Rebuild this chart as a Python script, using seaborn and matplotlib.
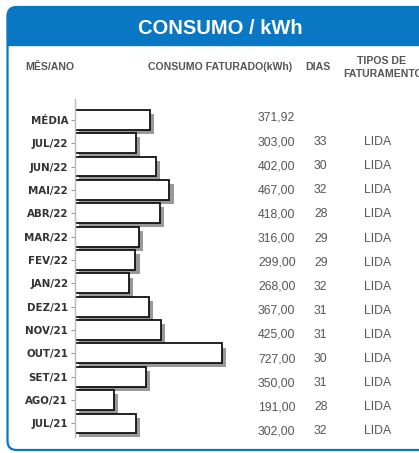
import matplotlib
matplotlib.use("Agg")
import matplotlib.pyplot as plt
import matplotlib.patheffects as pe
from matplotlib.patches import FancyBboxPatch, Rectangle
import seaborn as sns
import pandas as pd

meses = ["MÉDIA", "JUL/22", "JUN/22", "MAI/22", "ABR/22", "MAR/22", "FEV/22",
         "JAN/22", "DEZ/21", "NOV/21", "OUT/21", "SET/21", "AGO/21", "JUL/21"]
consumo = [371.92, 303, 402, 467, 418, 316, 299, 268, 367, 425, 727, 350, 191, 302]
dias = ["", "33", "30", "32", "28", "29", "29", "32", "31", "31", "30", "31", "28", "32"]
tipos = ["", "LIDA", "LIDA", "LIDA", "LIDA", "LIDA", "LIDA", "LIDA", "LIDA", "LIDA",
         "LIDA", "LIDA", "LIDA", "LIDA"]

df = pd.DataFrame({"mes": meses, "consumo": consumo})

sns.set_theme(style="white")
plt.rcParams["font.family"] = ["Liberation Sans", "DejaVu Sans"]

W, H = 419, 453
fig = plt.figure(figsize=(W / 100, H / 100), dpi=100)

BLUE = "#0a77c4"
# background frame
bg = fig.add_axes([0, 0, 1, 1], zorder=0)
bg.set_xlim(0, W)
bg.set_ylim(H, 0)
bg.axis("off")
bg.add_patch(FancyBboxPatch((7.5, 7), 460, 443, boxstyle="round,pad=0,rounding_size=9",
                            facecolor="white", edgecolor=BLUE, linewidth=1.6))
bg.add_patch(FancyBboxPatch((7.5, 7), 460, 38, boxstyle="round,pad=0,rounding_size=9",
                            facecolor=BLUE, edgecolor=BLUE, linewidth=1.0))
bg.add_patch(Rectangle((7.5, 30), 460, 15, facecolor=BLUE, edgecolor=BLUE, linewidth=1.0))
bg.text(220, 28, "CONSUMO / kWh", color="white", fontsize=14.5, fontweight="bold",
        ha="center", va="center")

hdr = dict(color="#555555", fontsize=7.6, fontweight="bold", va="center")
bg.text(25, 67, "MÊS/ANO", ha="left", **hdr)
bg.text(148, 67, "CONSUMO FATURADO(kWh)", ha="left", **hdr)
bg.text(305, 67, "DIAS", ha="left", **hdr)
bg.text(381, 61, "TIPOS DE", ha="center", **hdr)
bg.text(343, 74, "FATURAMENTO", ha="left", **hdr)

# value table
for i in range(len(meses)):
    y = 118 + i * 24.1
    txt = dict(color="#555555", fontsize=8.8, va="center")
    bg.text(258, y, f"{consumo[i]:.2f}".replace(".", ","), ha="left", **txt)
    if dias[i]:
        bg.text(314, y, dias[i], ha="left", **txt)
    if tipos[i]:
        bg.text(378, y, tipos[i], ha="center", **txt)

# bar chart
left, right = 75 / W, 240 / W
top, bottom = 1 - 99 / H, 1 - 437 / H
ax = fig.add_axes([left, bottom, right - left, top - bottom], zorder=2)
ax.patch.set_alpha(0)
sns.barplot(data=df, y="mes", x="consumo", orient="h", ax=ax, color="white",
            edgecolor="#111111", linewidth=1.3, width=0.85, order=meses)
for p in ax.patches:
    p.set_facecolor("white")
    p.set_path_effects([pe.SimplePatchShadow(offset=(3, -3), shadow_rgbFace="#777777", alpha=0.75),
                        pe.Normal()])
ax.set_xlim(0, 816)
ax.set_ylim(13.58, -0.89)
ax.set_xlabel("")
ax.set_ylabel("")
ax.set_xticks([])
for s in ["top", "right", "bottom"]:
    ax.spines[s].set_visible(False)
ax.spines["left"].set_color("#bbbbbb")
ax.spines["left"].set_linewidth(1.0)
ax.tick_params(axis="y", length=3, width=0.8, color="#999999", pad=2, left=True)
for lab in ax.get_yticklabels():
    lab.set_fontfamily("DejaVu Sans")
    lab.set_fontstretch("condensed")
    lab.set_fontweight("bold")
    lab.set_fontsize(8.2)
    lab.set_color("#333333")

fig.savefig("out.png", dpi=100)
